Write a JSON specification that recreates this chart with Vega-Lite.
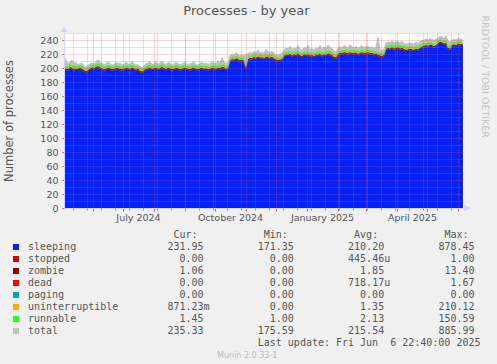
{
"$schema": "https://vega.github.io/schema/vega-lite/v6.json",
"background": "#f0f0f0",
"padding": {"left": 3, "top": 5, "right": 20, "bottom": 20},
"bounds": "flush",
"spacing": 21,
"title": {"text": "Processes - by year", "font": "DejaVu Sans", "fontSize": 13, "fontWeight": "normal", "color": "#555555", "anchor": "middle", "frame": "bounds", "baseline": "alphabetic", "offset": -13},
"datasets": {
"procs": [
{"date":"2024-05-03","sleeping":199,"zombie":2,"uninterruptible":1.5,"runnable":2.2,"total":217},
{"date":"2024-05-05","sleeping":197,"zombie":1.8,"uninterruptible":1.3,"runnable":2,"total":210},
{"date":"2024-05-07","sleeping":196,"zombie":2.2,"uninterruptible":1.5,"runnable":2.3,"total":206},
{"date":"2024-05-09","sleeping":200,"zombie":1.9,"uninterruptible":1.2,"runnable":2.1,"total":209},
{"date":"2024-05-11","sleeping":198,"zombie":2,"uninterruptible":1.4,"runnable":2.2,"total":211},
{"date":"2024-05-13","sleeping":196,"zombie":2.1,"uninterruptible":1.6,"runnable":2.4,"total":207},
{"date":"2024-05-15","sleeping":198,"zombie":1.8,"uninterruptible":1.3,"runnable":2,"total":208},
{"date":"2024-05-17","sleeping":197,"zombie":1.9,"uninterruptible":1.4,"runnable":2.1,"total":205},
{"date":"2024-05-19","sleeping":199,"zombie":1.7,"uninterruptible":1.2,"runnable":2,"total":206},
{"date":"2024-05-21","sleeping":197,"zombie":2,"uninterruptible":1.5,"runnable":2.2,"total":207},
{"date":"2024-05-23","sleeping":195,"zombie":2.2,"uninterruptible":1.6,"runnable":2.3,"total":203},
{"date":"2024-05-25","sleeping":193,"zombie":2.3,"uninterruptible":1.7,"runnable":2.4,"total":201},
{"date":"2024-05-27","sleeping":195,"zombie":2,"uninterruptible":1.4,"runnable":2.1,"total":204},
{"date":"2024-05-29","sleeping":198,"zombie":1.8,"uninterruptible":1.3,"runnable":2,"total":206},
{"date":"2024-05-31","sleeping":199,"zombie":1.9,"uninterruptible":1.2,"runnable":2.1,"total":207},
{"date":"2024-06-02","sleeping":198,"zombie":2,"uninterruptible":1.3,"runnable":2.2,"total":206},
{"date":"2024-06-04","sleeping":200,"zombie":1.8,"uninterruptible":1.2,"runnable":2,"total":209},
{"date":"2024-06-06","sleeping":201,"zombie":1.9,"uninterruptible":1.4,"runnable":2.1,"total":212},
{"date":"2024-06-08","sleeping":199,"zombie":2,"uninterruptible":1.3,"runnable":2.2,"total":208},
{"date":"2024-06-10","sleeping":198,"zombie":1.8,"uninterruptible":1.5,"runnable":2.3,"total":207},
{"date":"2024-06-12","sleeping":196,"zombie":2.1,"uninterruptible":1.4,"runnable":2.1,"total":205},
{"date":"2024-06-14","sleeping":197,"zombie":1.9,"uninterruptible":1.3,"runnable":2,"total":206},
{"date":"2024-06-16","sleeping":199,"zombie":1.8,"uninterruptible":1.2,"runnable":2.2,"total":209},
{"date":"2024-06-18","sleeping":198,"zombie":2,"uninterruptible":1.4,"runnable":2.1,"total":206},
{"date":"2024-06-20","sleeping":196,"zombie":2.2,"uninterruptible":1.6,"runnable":2.3,"total":204},
{"date":"2024-06-22","sleeping":197,"zombie":2,"uninterruptible":1.3,"runnable":2,"total":205},
{"date":"2024-06-24","sleeping":199,"zombie":1.8,"uninterruptible":1.2,"runnable":2.1,"total":208},
{"date":"2024-06-26","sleeping":198,"zombie":1.9,"uninterruptible":1.4,"runnable":2.2,"total":206},
{"date":"2024-06-28","sleeping":197,"zombie":2,"uninterruptible":1.5,"runnable":2.3,"total":207},
{"date":"2024-06-30","sleeping":196,"zombie":2.1,"uninterruptible":1.3,"runnable":2.1,"total":204},
{"date":"2024-07-02","sleeping":197,"zombie":1.9,"uninterruptible":1.2,"runnable":2,"total":205},
{"date":"2024-07-04","sleeping":199,"zombie":1.8,"uninterruptible":1.3,"runnable":2.2,"total":209},
{"date":"2024-07-06","sleeping":198,"zombie":2,"uninterruptible":1.4,"runnable":2.1,"total":206},
{"date":"2024-07-08","sleeping":197,"zombie":2.1,"uninterruptible":1.3,"runnable":2,"total":205},
{"date":"2024-07-10","sleeping":199,"zombie":1.9,"uninterruptible":1.2,"runnable":2.2,"total":210},
{"date":"2024-07-12","sleeping":198,"zombie":1.8,"uninterruptible":1.4,"runnable":2.1,"total":206},
{"date":"2024-07-14","sleeping":196,"zombie":2,"uninterruptible":1.5,"runnable":2.3,"total":204},
{"date":"2024-07-16","sleeping":197,"zombie":2.2,"uninterruptible":1.3,"runnable":2.1,"total":205},
{"date":"2024-07-18","sleeping":194,"zombie":2.3,"uninterruptible":1.6,"runnable":2.2,"total":202},
{"date":"2024-07-20","sleeping":193,"zombie":2.1,"uninterruptible":1.5,"runnable":2.4,"total":200},
{"date":"2024-07-22","sleeping":195,"zombie":2,"uninterruptible":1.3,"runnable":2.1,"total":203},
{"date":"2024-07-24","sleeping":197,"zombie":1.9,"uninterruptible":1.2,"runnable":2,"total":206},
{"date":"2024-07-26","sleeping":198,"zombie":1.8,"uninterruptible":1.4,"runnable":2.2,"total":207},
{"date":"2024-07-28","sleeping":199,"zombie":2,"uninterruptible":1.3,"runnable":2.1,"total":209},
{"date":"2024-07-30","sleeping":197,"zombie":1.9,"uninterruptible":1.2,"runnable":2,"total":205},
{"date":"2024-08-01","sleeping":198,"zombie":2,"uninterruptible":1.4,"runnable":2.2,"total":206},
{"date":"2024-08-03","sleeping":199,"zombie":1.8,"uninterruptible":1.3,"runnable":2.1,"total":209},
{"date":"2024-08-05","sleeping":197,"zombie":1.9,"uninterruptible":1.2,"runnable":2,"total":205},
{"date":"2024-08-07","sleeping":198,"zombie":2.1,"uninterruptible":1.5,"runnable":2.3,"total":207},
{"date":"2024-08-09","sleeping":200,"zombie":1.8,"uninterruptible":1.3,"runnable":2.1,"total":210},
{"date":"2024-08-11","sleeping":198,"zombie":1.9,"uninterruptible":1.4,"runnable":2.2,"total":206},
{"date":"2024-08-13","sleeping":197,"zombie":2,"uninterruptible":1.3,"runnable":2,"total":205},
{"date":"2024-08-15","sleeping":199,"zombie":1.8,"uninterruptible":1.2,"runnable":2.1,"total":208},
{"date":"2024-08-17","sleeping":198,"zombie":1.9,"uninterruptible":1.4,"runnable":2.2,"total":207},
{"date":"2024-08-19","sleeping":196,"zombie":2.1,"uninterruptible":1.6,"runnable":2.3,"total":204},
{"date":"2024-08-21","sleeping":197,"zombie":2,"uninterruptible":1.3,"runnable":2.1,"total":206},
{"date":"2024-08-23","sleeping":199,"zombie":1.8,"uninterruptible":1.2,"runnable":2,"total":209},
{"date":"2024-08-25","sleeping":198,"zombie":1.9,"uninterruptible":1.4,"runnable":2.2,"total":206},
{"date":"2024-08-27","sleeping":196,"zombie":2.1,"uninterruptible":1.5,"runnable":2.3,"total":205},
{"date":"2024-08-29","sleeping":197,"zombie":2,"uninterruptible":1.3,"runnable":2.1,"total":206},
{"date":"2024-08-31","sleeping":199,"zombie":1.8,"uninterruptible":1.2,"runnable":2,"total":208},
{"date":"2024-09-02","sleeping":198,"zombie":1.9,"uninterruptible":1.4,"runnable":2.2,"total":207},
{"date":"2024-09-04","sleeping":197,"zombie":2,"uninterruptible":1.3,"runnable":2.1,"total":205},
{"date":"2024-09-06","sleeping":196,"zombie":2.1,"uninterruptible":1.5,"runnable":2.3,"total":206},
{"date":"2024-09-08","sleeping":198,"zombie":1.9,"uninterruptible":1.2,"runnable":2,"total":207},
{"date":"2024-09-10","sleeping":199,"zombie":1.8,"uninterruptible":1.3,"runnable":2.1,"total":209},
{"date":"2024-09-12","sleeping":197,"zombie":2,"uninterruptible":1.4,"runnable":2.2,"total":205},
{"date":"2024-09-14","sleeping":196,"zombie":2.1,"uninterruptible":1.6,"runnable":2.3,"total":204},
{"date":"2024-09-16","sleeping":198,"zombie":1.9,"uninterruptible":1.3,"runnable":2.1,"total":207},
{"date":"2024-09-18","sleeping":199,"zombie":1.8,"uninterruptible":1.2,"runnable":2,"total":208},
{"date":"2024-09-20","sleeping":197,"zombie":2,"uninterruptible":1.4,"runnable":2.2,"total":206},
{"date":"2024-09-22","sleeping":198,"zombie":1.9,"uninterruptible":1.3,"runnable":2.1,"total":207},
{"date":"2024-09-24","sleeping":196,"zombie":2.1,"uninterruptible":1.5,"runnable":2.3,"total":205},
{"date":"2024-09-26","sleeping":197,"zombie":2,"uninterruptible":1.3,"runnable":2,"total":206},
{"date":"2024-09-28","sleeping":199,"zombie":1.8,"uninterruptible":1.2,"runnable":2.1,"total":209},
{"date":"2024-09-30","sleeping":198,"zombie":1.9,"uninterruptible":1.4,"runnable":2.2,"total":207},
{"date":"2024-10-02","sleeping":197,"zombie":2,"uninterruptible":1.3,"runnable":2.1,"total":206},
{"date":"2024-10-04","sleeping":199,"zombie":1.8,"uninterruptible":1.2,"runnable":2,"total":210},
{"date":"2024-10-06","sleeping":198,"zombie":1.9,"uninterruptible":1.4,"runnable":2.2,"total":207},
{"date":"2024-10-08","sleeping":200,"zombie":1.8,"uninterruptible":1.3,"runnable":2.1,"total":215},
{"date":"2024-10-10","sleeping":199,"zombie":2,"uninterruptible":1.5,"runnable":2.3,"total":209},
{"date":"2024-10-12","sleeping":197,"zombie":2.1,"uninterruptible":1.4,"runnable":2.1,"total":206},
{"date":"2024-10-14","sleeping":198,"zombie":1.9,"uninterruptible":1.3,"runnable":2.2,"total":207},
{"date":"2024-10-16","sleeping":209,"zombie":1.8,"uninterruptible":1.2,"runnable":2.1,"total":218},
{"date":"2024-10-18","sleeping":211,"zombie":1.9,"uninterruptible":1.3,"runnable":2,"total":220},
{"date":"2024-10-20","sleeping":210,"zombie":2,"uninterruptible":1.4,"runnable":2.2,"total":219},
{"date":"2024-10-22","sleeping":212,"zombie":1.8,"uninterruptible":1.2,"runnable":2.1,"total":222},
{"date":"2024-10-24","sleeping":211,"zombie":1.9,"uninterruptible":1.3,"runnable":2,"total":219},
{"date":"2024-10-26","sleeping":209,"zombie":2.1,"uninterruptible":1.5,"runnable":2.3,"total":218},
{"date":"2024-10-28","sleeping":210,"zombie":2,"uninterruptible":1.4,"runnable":2.1,"total":219},
{"date":"2024-10-30","sleeping":208,"zombie":1.9,"uninterruptible":1.3,"runnable":2.2,"total":217},
{"date":"2024-11-01","sleeping":199,"zombie":2.2,"uninterruptible":1.6,"runnable":2.3,"total":220},
{"date":"2024-11-03","sleeping":211,"zombie":1.9,"uninterruptible":1.3,"runnable":2.1,"total":220},
{"date":"2024-11-05","sleeping":213,"zombie":1.8,"uninterruptible":1.2,"runnable":2,"total":222},
{"date":"2024-11-07","sleeping":212,"zombie":2,"uninterruptible":1.4,"runnable":2.2,"total":221},
{"date":"2024-11-09","sleeping":214,"zombie":1.9,"uninterruptible":1.3,"runnable":2.1,"total":224},
{"date":"2024-11-11","sleeping":213,"zombie":1.8,"uninterruptible":1.2,"runnable":2,"total":222},
{"date":"2024-11-13","sleeping":215,"zombie":1.9,"uninterruptible":1.4,"runnable":2.2,"total":226},
{"date":"2024-11-15","sleeping":213,"zombie":2,"uninterruptible":1.3,"runnable":2.1,"total":221},
{"date":"2024-11-17","sleeping":214,"zombie":1.8,"uninterruptible":1.2,"runnable":2,"total":223},
{"date":"2024-11-19","sleeping":212,"zombie":2.1,"uninterruptible":1.5,"runnable":2.3,"total":221},
{"date":"2024-11-21","sleeping":215,"zombie":1.9,"uninterruptible":1.3,"runnable":2.1,"total":227},
{"date":"2024-11-23","sleeping":214,"zombie":1.8,"uninterruptible":1.2,"runnable":2,"total":223},
{"date":"2024-11-25","sleeping":213,"zombie":2,"uninterruptible":1.4,"runnable":2.2,"total":222},
{"date":"2024-11-27","sleeping":214,"zombie":1.9,"uninterruptible":1.3,"runnable":2.1,"total":224},
{"date":"2024-11-29","sleeping":212,"zombie":2.1,"uninterruptible":1.5,"runnable":2.3,"total":221},
{"date":"2024-12-01","sleeping":210,"zombie":2.2,"uninterruptible":1.6,"runnable":2.4,"total":219},
{"date":"2024-12-03","sleeping":209,"zombie":2.3,"uninterruptible":1.7,"runnable":2.3,"total":218},
{"date":"2024-12-05","sleeping":210,"zombie":2.1,"uninterruptible":1.5,"runnable":2.2,"total":220},
{"date":"2024-12-07","sleeping":211,"zombie":2,"uninterruptible":1.4,"runnable":2.1,"total":221},
{"date":"2024-12-09","sleeping":216,"zombie":1.9,"uninterruptible":1.3,"runnable":2,"total":226},
{"date":"2024-12-11","sleeping":218,"zombie":1.8,"uninterruptible":1.2,"runnable":2.1,"total":229},
{"date":"2024-12-13","sleeping":217,"zombie":1.9,"uninterruptible":1.4,"runnable":2.2,"total":227},
{"date":"2024-12-15","sleeping":219,"zombie":1.8,"uninterruptible":1.3,"runnable":2,"total":231},
{"date":"2024-12-17","sleeping":216,"zombie":2,"uninterruptible":1.4,"runnable":2.1,"total":226},
{"date":"2024-12-19","sleeping":218,"zombie":1.9,"uninterruptible":1.3,"runnable":2.2,"total":229},
{"date":"2024-12-21","sleeping":217,"zombie":1.8,"uninterruptible":1.2,"runnable":2,"total":227},
{"date":"2024-12-23","sleeping":219,"zombie":1.9,"uninterruptible":1.4,"runnable":2.1,"total":232},
{"date":"2024-12-25","sleeping":216,"zombie":2.1,"uninterruptible":1.5,"runnable":2.3,"total":226},
{"date":"2024-12-27","sleeping":215,"zombie":2,"uninterruptible":1.4,"runnable":2.2,"total":225},
{"date":"2024-12-29","sleeping":218,"zombie":1.9,"uninterruptible":1.3,"runnable":2.1,"total":229},
{"date":"2024-12-31","sleeping":217,"zombie":1.8,"uninterruptible":1.2,"runnable":2,"total":227},
{"date":"2025-01-02","sleeping":218,"zombie":1.9,"uninterruptible":1.3,"runnable":2.1,"total":232},
{"date":"2025-01-04","sleeping":216,"zombie":2,"uninterruptible":1.4,"runnable":2.2,"total":226},
{"date":"2025-01-06","sleeping":217,"zombie":1.9,"uninterruptible":1.3,"runnable":2.1,"total":228},
{"date":"2025-01-08","sleeping":215,"zombie":2.1,"uninterruptible":1.5,"runnable":2.3,"total":225},
{"date":"2025-01-10","sleeping":218,"zombie":1.8,"uninterruptible":1.2,"runnable":2,"total":229},
{"date":"2025-01-12","sleeping":217,"zombie":1.9,"uninterruptible":1.4,"runnable":2.2,"total":227},
{"date":"2025-01-14","sleeping":219,"zombie":1.8,"uninterruptible":1.3,"runnable":2.1,"total":232},
{"date":"2025-01-16","sleeping":216,"zombie":2,"uninterruptible":1.4,"runnable":2.2,"total":226},
{"date":"2025-01-18","sleeping":218,"zombie":1.9,"uninterruptible":1.3,"runnable":2.1,"total":230},
{"date":"2025-01-20","sleeping":217,"zombie":1.8,"uninterruptible":1.2,"runnable":2,"total":227},
{"date":"2025-01-22","sleeping":219,"zombie":1.9,"uninterruptible":1.4,"runnable":2.2,"total":233},
{"date":"2025-01-24","sleeping":218,"zombie":2,"uninterruptible":1.3,"runnable":2.1,"total":229},
{"date":"2025-01-26","sleeping":217,"zombie":1.9,"uninterruptible":1.4,"runnable":2.2,"total":228},
{"date":"2025-01-28","sleeping":214,"zombie":2.2,"uninterruptible":1.6,"runnable":2.3,"total":224},
{"date":"2025-01-30","sleeping":213,"zombie":2.3,"uninterruptible":1.5,"runnable":2.2,"total":223},
{"date":"2025-02-01","sleeping":218,"zombie":1.9,"uninterruptible":1.3,"runnable":2.1,"total":228},
{"date":"2025-02-03","sleeping":220,"zombie":1.8,"uninterruptible":1.2,"runnable":2,"total":230},
{"date":"2025-02-05","sleeping":219,"zombie":1.9,"uninterruptible":1.4,"runnable":2.2,"total":229},
{"date":"2025-02-07","sleeping":221,"zombie":1.8,"uninterruptible":1.3,"runnable":2.1,"total":232},
{"date":"2025-02-09","sleeping":220,"zombie":2,"uninterruptible":1.4,"runnable":2.2,"total":230},
{"date":"2025-02-11","sleeping":219,"zombie":1.9,"uninterruptible":1.3,"runnable":2.1,"total":228},
{"date":"2025-02-13","sleeping":221,"zombie":1.8,"uninterruptible":1.2,"runnable":2,"total":233},
{"date":"2025-02-15","sleeping":220,"zombie":1.9,"uninterruptible":1.4,"runnable":2.2,"total":230},
{"date":"2025-02-17","sleeping":219,"zombie":2,"uninterruptible":1.3,"runnable":2.1,"total":229},
{"date":"2025-02-19","sleeping":221,"zombie":1.8,"uninterruptible":1.2,"runnable":2,"total":231},
{"date":"2025-02-21","sleeping":218,"zombie":2.1,"uninterruptible":1.5,"runnable":2.3,"total":228},
{"date":"2025-02-23","sleeping":220,"zombie":1.9,"uninterruptible":1.3,"runnable":2.1,"total":230},
{"date":"2025-02-25","sleeping":221,"zombie":1.8,"uninterruptible":1.2,"runnable":2,"total":232},
{"date":"2025-02-27","sleeping":219,"zombie":1.9,"uninterruptible":1.4,"runnable":2.2,"total":229},
{"date":"2025-03-01","sleeping":220,"zombie":2,"uninterruptible":1.3,"runnable":2.1,"total":230},
{"date":"2025-03-03","sleeping":221,"zombie":1.9,"uninterruptible":1.4,"runnable":2.2,"total":231},
{"date":"2025-03-05","sleeping":219,"zombie":2,"uninterruptible":1.3,"runnable":2.1,"total":229},
{"date":"2025-03-07","sleeping":220,"zombie":1.8,"uninterruptible":1.2,"runnable":2,"total":230},
{"date":"2025-03-09","sleeping":218,"zombie":2.1,"uninterruptible":1.5,"runnable":2.3,"total":228},
{"date":"2025-03-11","sleeping":219,"zombie":1.9,"uninterruptible":1.3,"runnable":2.1,"total":229},
{"date":"2025-03-13","sleeping":217,"zombie":2,"uninterruptible":1.4,"runnable":2.2,"total":244},
{"date":"2025-03-15","sleeping":216,"zombie":2.1,"uninterruptible":1.5,"runnable":2.3,"total":226},
{"date":"2025-03-17","sleeping":215,"zombie":2,"uninterruptible":1.4,"runnable":2.2,"total":225},
{"date":"2025-03-19","sleeping":217,"zombie":1.9,"uninterruptible":1.3,"runnable":2.1,"total":227},
{"date":"2025-03-21","sleeping":225,"zombie":1.8,"uninterruptible":1.2,"runnable":2,"total":235},
{"date":"2025-03-23","sleeping":227,"zombie":1.9,"uninterruptible":1.4,"runnable":2.2,"total":237},
{"date":"2025-03-25","sleeping":226,"zombie":1.8,"uninterruptible":1.3,"runnable":2.1,"total":236},
{"date":"2025-03-27","sleeping":228,"zombie":2,"uninterruptible":1.4,"runnable":2.2,"total":239},
{"date":"2025-03-29","sleeping":226,"zombie":1.9,"uninterruptible":1.3,"runnable":2.1,"total":236},
{"date":"2025-03-31","sleeping":227,"zombie":1.8,"uninterruptible":1.2,"runnable":2,"total":237},
{"date":"2025-04-02","sleeping":228,"zombie":1.9,"uninterruptible":1.4,"runnable":2.2,"total":238},
{"date":"2025-04-04","sleeping":226,"zombie":2,"uninterruptible":1.3,"runnable":2.1,"total":236},
{"date":"2025-04-06","sleeping":227,"zombie":1.9,"uninterruptible":1.4,"runnable":2.2,"total":238},
{"date":"2025-04-08","sleeping":225,"zombie":2.1,"uninterruptible":1.5,"runnable":2.3,"total":235},
{"date":"2025-04-10","sleeping":224,"zombie":2,"uninterruptible":1.4,"runnable":2.2,"total":234},
{"date":"2025-04-12","sleeping":225,"zombie":1.9,"uninterruptible":1.3,"runnable":2.1,"total":235},
{"date":"2025-04-14","sleeping":226,"zombie":1.8,"uninterruptible":1.2,"runnable":2,"total":236},
{"date":"2025-04-16","sleeping":225,"zombie":1.9,"uninterruptible":1.4,"runnable":2.2,"total":235},
{"date":"2025-04-18","sleeping":224,"zombie":2,"uninterruptible":1.3,"runnable":2.1,"total":234},
{"date":"2025-04-20","sleeping":226,"zombie":1.9,"uninterruptible":1.4,"runnable":2.2,"total":237},
{"date":"2025-04-22","sleeping":225,"zombie":1.8,"uninterruptible":1.3,"runnable":2.1,"total":235},
{"date":"2025-04-24","sleeping":227,"zombie":1.9,"uninterruptible":1.2,"runnable":2,"total":238},
{"date":"2025-04-26","sleeping":229,"zombie":1.8,"uninterruptible":1.3,"runnable":2.1,"total":239},
{"date":"2025-04-28","sleeping":230,"zombie":1.9,"uninterruptible":1.4,"runnable":2.2,"total":240},
{"date":"2025-04-30","sleeping":231,"zombie":1.8,"uninterruptible":1.2,"runnable":2,"total":241},
{"date":"2025-05-02","sleeping":230,"zombie":1.9,"uninterruptible":1.3,"runnable":2.1,"total":240},
{"date":"2025-05-04","sleeping":232,"zombie":1.8,"uninterruptible":1.2,"runnable":2,"total":242},
{"date":"2025-05-06","sleeping":231,"zombie":1.9,"uninterruptible":1.4,"runnable":2.2,"total":241},
{"date":"2025-05-08","sleeping":229,"zombie":2,"uninterruptible":1.3,"runnable":2.1,"total":239},
{"date":"2025-05-10","sleeping":231,"zombie":1.9,"uninterruptible":1.2,"runnable":2,"total":241},
{"date":"2025-05-12","sleeping":234,"zombie":1.8,"uninterruptible":1.3,"runnable":2.1,"total":243},
{"date":"2025-05-14","sleeping":236,"zombie":1.9,"uninterruptible":1.4,"runnable":2.2,"total":245},
{"date":"2025-05-16","sleeping":235,"zombie":1.8,"uninterruptible":1.2,"runnable":2,"total":244},
{"date":"2025-05-18","sleeping":233,"zombie":2,"uninterruptible":1.3,"runnable":2.1,"total":242},
{"date":"2025-05-20","sleeping":234,"zombie":1.9,"uninterruptible":1.4,"runnable":2.2,"total":246},
{"date":"2025-05-22","sleeping":227,"zombie":2.1,"uninterruptible":1.5,"runnable":2.3,"total":238},
{"date":"2025-05-24","sleeping":226,"zombie":2,"uninterruptible":1.4,"runnable":2.2,"total":237},
{"date":"2025-05-26","sleeping":231,"zombie":1.9,"uninterruptible":1.3,"runnable":2.1,"total":240},
{"date":"2025-05-28","sleeping":232,"zombie":1.8,"uninterruptible":1.2,"runnable":2,"total":241},
{"date":"2025-05-30","sleeping":231,"zombie":1.9,"uninterruptible":1.3,"runnable":2.1,"total":240},
{"date":"2025-06-01","sleeping":233,"zombie":1.8,"uninterruptible":1.2,"runnable":2,"total":242},
{"date":"2025-06-03","sleeping":232,"zombie":1.9,"uninterruptible":1.4,"runnable":2.2,"total":241},
{"date":"2025-06-05","sleeping":233,"zombie":1.8,"uninterruptible":1.2,"runnable":2.1,"total":241},
{"date":"2025-06-06","sleeping":231.95,"zombie":1.06,"uninterruptible":0.87,"runnable":1.45,"total":235.33}
],
"stats": [
{"series":"sleeping","stat":"Cur","value":231.95,"unit":""},
{"series":"sleeping","stat":"Min","value":171.35,"unit":""},
{"series":"sleeping","stat":"Avg","value":210.20,"unit":""},
{"series":"sleeping","stat":"Max","value":878.45,"unit":""},
{"series":"stopped","stat":"Cur","value":0,"unit":""},
{"series":"stopped","stat":"Min","value":0,"unit":""},
{"series":"stopped","stat":"Avg","value":445.46,"unit":"u"},
{"series":"stopped","stat":"Max","value":1,"unit":""},
{"series":"zombie","stat":"Cur","value":1.06,"unit":""},
{"series":"zombie","stat":"Min","value":0,"unit":""},
{"series":"zombie","stat":"Avg","value":1.85,"unit":""},
{"series":"zombie","stat":"Max","value":13.40,"unit":""},
{"series":"dead","stat":"Cur","value":0,"unit":""},
{"series":"dead","stat":"Min","value":0,"unit":""},
{"series":"dead","stat":"Avg","value":718.17,"unit":"u"},
{"series":"dead","stat":"Max","value":1.67,"unit":""},
{"series":"paging","stat":"Cur","value":0,"unit":""},
{"series":"paging","stat":"Min","value":0,"unit":""},
{"series":"paging","stat":"Avg","value":0,"unit":""},
{"series":"paging","stat":"Max","value":0,"unit":""},
{"series":"uninterruptible","stat":"Cur","value":871.23,"unit":"m"},
{"series":"uninterruptible","stat":"Min","value":0,"unit":""},
{"series":"uninterruptible","stat":"Avg","value":1.35,"unit":""},
{"series":"uninterruptible","stat":"Max","value":210.12,"unit":""},
{"series":"runnable","stat":"Cur","value":1.45,"unit":""},
{"series":"runnable","stat":"Min","value":1,"unit":""},
{"series":"runnable","stat":"Avg","value":2.13,"unit":""},
{"series":"runnable","stat":"Max","value":150.59,"unit":""},
{"series":"total","stat":"Cur","value":235.33,"unit":""},
{"series":"total","stat":"Min","value":175.59,"unit":""},
{"series":"total","stat":"Avg","value":215.54,"unit":""},
{"series":"total","stat":"Max","value":885.99,"unit":""}
],
"heads": [
{"stat":"Cur","label":"Cur:"},
{"stat":"Min","label":"Min:"},
{"stat":"Avg","label":"Avg:"},
{"stat":"Max","label":"Max:"}
],
"note": [
{"text":"Last update: Fri Jun\u00a0 6 22:40:00 2025"}
]
},
"vconcat": [
{
"width": 400,
"height": 175,
"view": {"fill": "#ffffff", "stroke": null},
"data": {"name": "procs"},
"layer": [
{
"mark": {"type": "area", "color": "#c0c0c0", "interpolate": "linear"},
"encoding": {
"x": {"field": "date", "type": "temporal",
"scale": {"type": "utc", "domain": [{"year": 2024, "month": 5, "date": 3, "utc": true}, {"year": 2025, "month": 6, "date": 7, "utc": true}]},
"axis": {"orient": "bottom", "title": null, "labels": false, "grid": true, "gridColor": "#e05050", "gridOpacity": 0.5, "gridDash": [1, 1], "ticks": true, "tickColor": "#e05050", "tickSize": 3, "domain": true, "domainColor": "#cfd6f8", "zindex": 1,
"values": [{"year":2024,"month":6,"date":1,"utc":true},{"year":2024,"month":7,"date":1,"utc":true},{"year":2024,"month":8,"date":1,"utc":true},{"year":2024,"month":9,"date":1,"utc":true},{"year":2024,"month":10,"date":1,"utc":true},{"year":2024,"month":11,"date":1,"utc":true},{"year":2024,"month":12,"date":1,"utc":true},{"year":2025,"month":1,"date":1,"utc":true},{"year":2025,"month":2,"date":1,"utc":true},{"year":2025,"month":3,"date":1,"utc":true},{"year":2025,"month":4,"date":1,"utc":true},{"year":2025,"month":5,"date":1,"utc":true},{"year":2025,"month":6,"date":1,"utc":true}]}},
"y": {"field": "total", "type": "quantitative", "scale": {"domain": [0, 250], "nice": false},
"axis": {"orient": "left", "title": "Number of processes", "titleFont": "DejaVu Sans", "titleFontSize": 11.5, "titleFontWeight": "normal", "titleColor": "#555555", "titlePadding": 25,
"values": [0, 20, 40, 60, 80, 100, 120, 140, 160, 180, 200, 220, 240],
"labelFont": "DejaVu Sans", "labelFontSize": 9.5, "labelColor": "#555555", "labelPadding": 4,
"grid": true, "gridColor": "#e05050", "gridOpacity": 0.5, "gridDash": [1, 1], "ticks": true, "tickColor": "#e05050", "tickSize": 2, "domain": true, "domainColor": "#cfd6f8", "zindex": 1}}
}
},
{
"transform": [
{"fold": ["sleeping", "zombie", "uninterruptible", "runnable"], "as": ["series", "count"]},
{"lookup": "series", "from": {"data": {"values": [{"series": "sleeping", "rank": 1}, {"series": "zombie", "rank": 3}, {"series": "uninterruptible", "rank": 6}, {"series": "runnable", "rank": 7}]}, "key": "series", "fields": ["rank"]}}
],
"mark": {"type": "area", "interpolate": "linear"},
"encoding": {
"x": {"field": "date", "type": "temporal",
"scale": {"type": "utc", "domain": [{"year": 2024, "month": 5, "date": 3, "utc": true}, {"year": 2025, "month": 6, "date": 7, "utc": true}]},
"axis": {"orient": "bottom", "title": null, "labels": false, "grid": true, "gridColor": "#8f8f8f", "gridOpacity": 0.5, "gridDash": [1, 1], "ticks": true, "tickColor": "#8f8f8f", "tickSize": 2, "domain": false, "zindex": 1,
"values": [{"year":2024,"month":5,"date":12,"utc":true},{"year":2024,"month":5,"date":26,"utc":true},{"year":2024,"month":6,"date":9,"utc":true},{"year":2024,"month":6,"date":23,"utc":true},{"year":2024,"month":7,"date":7,"utc":true},{"year":2024,"month":7,"date":21,"utc":true},{"year":2024,"month":8,"date":4,"utc":true},{"year":2024,"month":8,"date":18,"utc":true},{"year":2024,"month":9,"date":1,"utc":true},{"year":2024,"month":9,"date":15,"utc":true},{"year":2024,"month":9,"date":29,"utc":true},{"year":2024,"month":10,"date":13,"utc":true},{"year":2024,"month":10,"date":27,"utc":true},{"year":2024,"month":11,"date":10,"utc":true},{"year":2024,"month":11,"date":24,"utc":true},{"year":2024,"month":12,"date":8,"utc":true},{"year":2024,"month":12,"date":22,"utc":true},{"year":2025,"month":1,"date":5,"utc":true},{"year":2025,"month":1,"date":19,"utc":true},{"year":2025,"month":2,"date":2,"utc":true},{"year":2025,"month":2,"date":16,"utc":true},{"year":2025,"month":3,"date":2,"utc":true},{"year":2025,"month":3,"date":16,"utc":true},{"year":2025,"month":3,"date":30,"utc":true},{"year":2025,"month":4,"date":13,"utc":true},{"year":2025,"month":4,"date":27,"utc":true},{"year":2025,"month":5,"date":11,"utc":true},{"year":2025,"month":5,"date":25,"utc":true}]}},
"y": {"field": "count", "type": "quantitative", "stack": "zero", "scale": {"domain": [0, 250], "nice": false},
"axis": {"orient": "left", "title": null, "labels": false, "ticks": false, "domain": false, "grid": true, "gridColor": "#8f8f8f", "gridOpacity": 0.5, "gridDash": [1, 1], "zindex": 1,
"values": [10, 30, 50, 70, 90, 110, 130, 150, 170, 190, 210, 230, 250]}},
"color": {"field": "series", "type": "nominal",
"scale": {"domain": ["sleeping", "stopped", "zombie", "dead", "paging", "uninterruptible", "runnable", "total"], "range": ["#0022ff", "#cc0000", "#990000", "#ff0000", "#00aaaa", "#ffaa00", "#22ff22", "#c0c0c0"]},
"legend": null},
"order": {"field": "rank", "type": "quantitative", "sort": "ascending"}
}
},
{
"mark": {"type": "line", "color": "#c0c0c0", "strokeWidth": 1, "interpolate": "linear"},
"encoding": {
"x": {"field": "date", "type": "temporal",
"scale": {"type": "utc", "domain": [{"year": 2024, "month": 5, "date": 3, "utc": true}, {"year": 2025, "month": 6, "date": 7, "utc": true}]},
"axis": {"orient": "bottom", "title": null, "labels": true, "grid": false, "ticks": false, "domain": false, "format": "%B %Y", "labelFont": "DejaVu Sans", "labelFontSize": 9.5, "labelColor": "#555555", "labelPadding": 4, "labelFlush": false, "labelOverlap": false,
"values": [{"year":2024,"month":7,"date":16,"utc":true},{"year":2024,"month":10,"date":16,"utc":true},{"year":2025,"month":1,"date":16,"utc":true},{"year":2025,"month":4,"date":16,"utc":true}]}},
"y": {"field": "total", "type": "quantitative", "scale": {"domain": [0, 250], "nice": false},
"axis": {"orient": "right", "title": "RRDTOOL / TOBI OETIKER", "titleFont": "DejaVu Sans", "titleFontSize": 9.5, "titleFontWeight": "normal", "titleColor": "#c4c4c4", "titleAngle": 90, "titleAlign": "left", "titleBaseline": "middle", "titleY": -18, "titlePadding": 20, "titleLimit": 300, "labels": false, "ticks": false, "domain": false, "grid": false}}
}
},
{
"mark": {"type": "point", "shape": "triangle-up", "filled": true, "color": "#cfd6f8", "opacity": 1, "size": 28},
"encoding": {
"x": {"datum": {"year": 2024, "month": 5, "date": 3, "utc": true}, "type": "temporal", "axis": null},
"y": {"datum": 255, "type": "quantitative", "axis": null}
}
},
{
"mark": {"type": "point", "shape": "triangle-right", "filled": true, "color": "#cfd6f8", "opacity": 1, "size": 28},
"encoding": {
"x": {"datum": {"year": 2025, "month": 6, "date": 10, "utc": true}, "type": "temporal", "axis": null},
"y": {"datum": 0, "type": "quantitative", "axis": null}
}
}
],
"resolve": {"axis": {"x": "independent", "y": "independent"}}
},
{
"width": 410.5,
"height": 120,
"title": {"text": "Munin 2.0.33-1", "orient": "bottom", "anchor": "middle", "frame": "group", "dx": -22, "offset": 2.5, "font": "DejaVu Sans", "fontSize": 8, "fontWeight": "normal", "color": "#bbbbbb"},
"layer": [
{
"data": {"name": "stats"},
"mark": {"type": "square", "opacity": 0, "size": 36},
"encoding": {
"x": {"field": "stat", "type": "nominal", "scale": {"type": "point", "domain": ["Cur", "Min", "Avg", "Max"], "padding": 0.7722, "align": 1}, "axis": null},
"y": {"field": "series", "type": "nominal", "scale": {"type": "point", "domain": ["header", "sleeping", "stopped", "zombie", "dead", "paging", "uninterruptible", "runnable", "total", "update"], "padding": 0.5}, "axis": null},
"color": {"field": "series", "type": "nominal",
"scale": {"domain": ["sleeping", "stopped", "zombie", "dead", "paging", "uninterruptible", "runnable", "total"], "range": ["#0022ff", "#cc0000", "#990000", "#ff0000", "#00aaaa", "#ffaa00", "#22ff22", "#c0c0c0"]},
"legend": {"orient": "none", "legendX": -53, "legendY": 13, "title": null, "symbolType": "square", "symbolSize": 36, "symbolOpacity": 1, "symbolStrokeWidth": 0, "labelFont": "DejaVu Sans Mono", "labelFontSize": 10, "labelColor": "#555555", "labelOffset": 7, "rowPadding": 2, "padding": 0, "labelLimit": 200}}
}
},
{
"data": {"name": "stats"},
"mark": {"type": "text", "align": "right", "baseline": "middle", "font": "DejaVu Sans Mono", "fontSize": 10, "color": "#555555"},
"encoding": {
"x": {"field": "stat", "type": "nominal", "scale": {"type": "point", "domain": ["Cur", "Min", "Avg", "Max"], "padding": 0.7722, "align": 1}, "axis": null},
"y": {"field": "series", "type": "nominal", "scale": {"type": "point", "domain": ["header", "sleeping", "stopped", "zombie", "dead", "paging", "uninterruptible", "runnable", "total", "update"], "padding": 0.5}, "axis": null},
"text": {"field": "value", "type": "quantitative", "format": ".2f"}
}
},
{
"data": {"name": "stats"},
"mark": {"type": "text", "align": "left", "baseline": "middle", "font": "DejaVu Sans Mono", "fontSize": 10, "color": "#555555"},
"encoding": {
"x": {"field": "stat", "type": "nominal", "scale": {"type": "point", "domain": ["Cur", "Min", "Avg", "Max"], "padding": 0.7722, "align": 1}, "axis": null},
"y": {"field": "series", "type": "nominal", "scale": {"type": "point", "domain": ["header", "sleeping", "stopped", "zombie", "dead", "paging", "uninterruptible", "runnable", "total", "update"], "padding": 0.5}, "axis": null},
"text": {"field": "unit", "type": "nominal"}
}
},
{
"data": {"name": "heads"},
"mark": {"type": "text", "align": "right", "baseline": "middle", "font": "DejaVu Sans Mono", "fontSize": 10, "color": "#555555", "dx": -6},
"encoding": {
"x": {"field": "stat", "type": "nominal", "scale": {"type": "point", "domain": ["Cur", "Min", "Avg", "Max"], "padding": 0.7722, "align": 1}, "axis": null},
"y": {"datum": "header", "type": "nominal", "scale": {"type": "point", "domain": ["header", "sleeping", "stopped", "zombie", "dead", "paging", "uninterruptible", "runnable", "total", "update"], "padding": 0.5}, "axis": null},
"text": {"field": "label", "type": "nominal"}
}
},
{
"data": {"name": "note"},
"mark": {"type": "text", "align": "right", "baseline": "middle", "font": "DejaVu Sans Mono", "fontSize": 10, "color": "#555555", "dx": 6},
"encoding": {
"x": {"datum": "Max", "type": "nominal", "scale": {"type": "point", "domain": ["Cur", "Min", "Avg", "Max"], "padding": 0.7722, "align": 1}, "axis": null},
"y": {"datum": "update", "type": "nominal", "scale": {"type": "point", "domain": ["header", "sleeping", "stopped", "zombie", "dead", "paging", "uninterruptible", "runnable", "total", "update"], "padding": 0.5}, "axis": null},
"text": {"field": "text", "type": "nominal"}
}
}
]
}
],
"resolve": {"scale": {"color": "independent"}},
"config": {"view": {"stroke": null}, "font": "DejaVu Sans"}
}
